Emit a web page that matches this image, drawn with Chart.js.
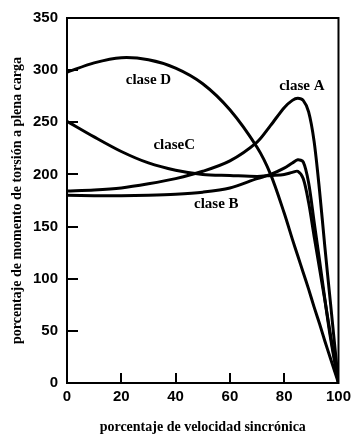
<!DOCTYPE html>
<html>
<head>
<meta charset="utf-8">
<script src="https://cdn.jsdelivr.net/npm/chart.js@4"></script>
<style>
  body { margin: 0; background: #fff; }
</style>
</head>
<body>
<canvas id="chart" width="356" height="437"></canvas>
<script>
// speed in % of synchronous speed
const speed = [0, 10, 20, 30, 40, 50, 60, 70, 75, 80, 83, 85, 87, 89, 91, 93, 95, 97, 100];

// torque in % of full-load torque, one array per rotor class
const claseA = [184, 185, 187, 191, 196, 203, 213, 231, 247, 264, 271, 273, 271, 260, 232, 185, 130, 78, 0];
const claseB = [180, 179.5, 179.5, 180, 181, 183, 187, 196, 200, 206, 211, 214, 212, 192, 155, 118, 80, 44, 0];
const claseC = [251, 236, 222, 211, 204, 200, 199, 198, 199, 200, 202, 203, 196, 173, 141, 110, 79, 47, 0];
const claseD = [298, 307, 312, 310, 302, 287, 262, 226, 200, 163, 138, 122, 106, 90, 73, 57, 40, 24, 0];

const xTicks = [0, 20, 40, 60, 80, 100];
const yTicks = [0, 50, 100, 150, 200, 250, 300, 350];

// curve labels, placed in data units
const curveLabels = [
  { text: 'clase D', x: 30, y: 290 },
  { text: 'claseC', x: 39.5, y: 228 },
  { text: 'clase A', x: 86.5, y: 285 },
  { text: 'clase B', x: 55, y: 172 },
];

const series = (data) => ({
  data: speed.map((s, i) => ({ x: s, y: data[i] })),
  borderColor: '#000',
  borderWidth: 3,
  pointRadius: 0,
  fill: false,
  tension: 0.3,
});

// frame, inward tick marks and curve labels
const framePlugin = {
  id: 'framePlugin',
  afterDraw(chart) {
    const { ctx, chartArea: a, scales: { x, y } } = chart;
    ctx.save();
    ctx.strokeStyle = '#000';
    ctx.lineWidth = 2;
    ctx.strokeRect(a.left, a.top, a.right - a.left, a.bottom - a.top);
    ctx.beginPath();
    xTicks.forEach((v) => {
      const px = Math.round(x.getPixelForValue(v));
      ctx.moveTo(px, a.bottom);
      ctx.lineTo(px, a.bottom - 10);
    });
    yTicks.forEach((v) => {
      const py = Math.round(y.getPixelForValue(v));
      ctx.moveTo(a.left, py);
      ctx.lineTo(a.left + 11, py);
    });
    ctx.stroke();

    ctx.fillStyle = '#000';
    ctx.font = 'bold 15px "Liberation Serif"';
    ctx.textAlign = 'center';
    ctx.textBaseline = 'middle';
    curveLabels.forEach((l) => {
      ctx.fillText(l.text, x.getPixelForValue(l.x), y.getPixelForValue(l.y));
    });
    ctx.restore();
  },
};

new Chart(document.getElementById('chart'), {
  type: 'line',
  data: {
    datasets: [series(claseA), series(claseB), series(claseC), series(claseD)],
  },
  options: {
    responsive: false,
    animation: false,
    layout: { padding: { left: 0, top: 13, right: 14, bottom: 0 } },
    plugins: { legend: { display: false }, tooltip: { enabled: false } },
    scales: {
      x: {
        type: 'linear',
        min: 0,
        max: 100,
        afterFit: (scale) => { scale.height = 54; },
        grid: { display: false, drawTicks: false },
        border: { display: false },
        ticks: {
          stepSize: 20,
          padding: 5,
          color: '#000',
          font: { family: '"Liberation Sans"', size: 15, weight: 'bold' },
        },
        title: {
          display: true,
          text: 'porcentaje de velocidad sincrónica',
          color: '#000',
          padding: { top: 0, bottom: 1 },
          font: { family: '"Liberation Serif"', size: 14, weight: 'bold' },
        },
      },
      y: {
        min: 0,
        max: 350,
        afterFit: (scale) => { scale.width = 67; },
        grid: { display: false, drawTicks: false },
        border: { display: false },
        ticks: {
          stepSize: 50,
          padding: 9,
          color: '#000',
          font: { family: '"Liberation Sans"', size: 15, weight: 'bold' },
        },
        title: {
          display: true,
          text: 'porcentaje de momento de torsión a plena carga',
          color: '#000',
          padding: { top: 9, bottom: 0 },
          font: { family: '"Liberation Serif"', size: 14, weight: 'bold' },
        },
      },
    },
  },
  plugins: [framePlugin],
});
</script>
</body>
</html>
